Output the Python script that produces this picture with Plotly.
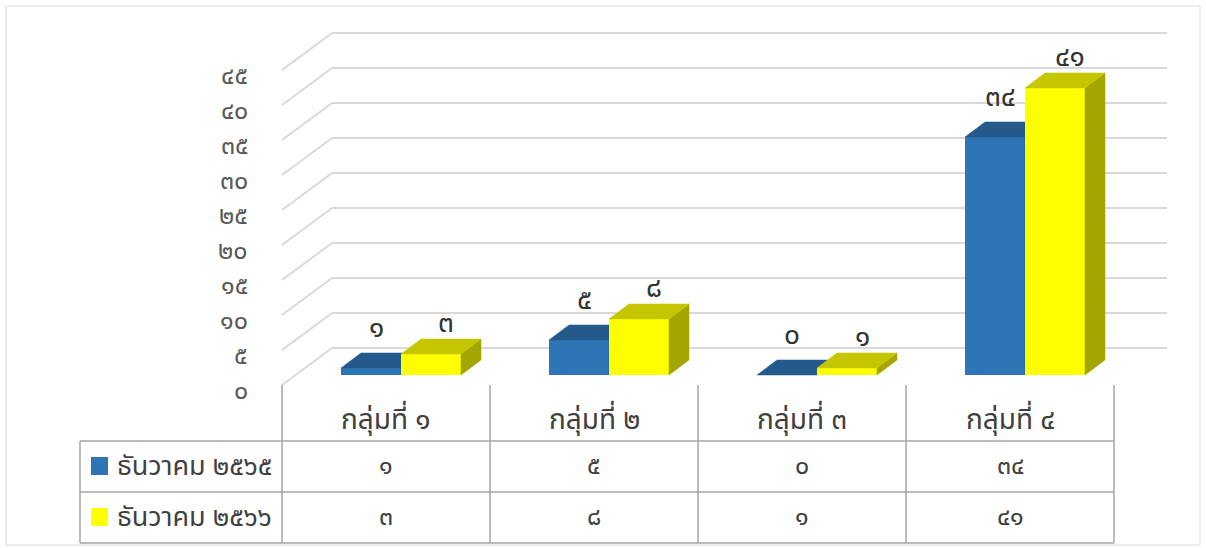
import plotly.graph_objects as go

# ---------------- data ----------------
categories = ["กลุ่มที่ ๑", "กลุ่มที่ ๒", "กลุ่มที่ ๓", "กลุ่มที่ ๔"]
series_names = ["ธันวาคม ๒๕๖๕", "ธันวาคม ๒๕๖๖"]
values_2565 = [1, 5, 0, 34]
values_2566 = [3, 8, 1, 41]
tick_values = [0, 5, 10, 15, 20, 25, 30, 35, 40, 45]
tick_labels = ["๐", "๕", "๑๐", "๑๕", "๒๐", "๒๕", "๓๐", "๓๕", "๔๐", "๔๕"]

THAI = str.maketrans("0123456789", "๐๑๒๓๔๕๖๗๘๙")


def thai(n):
    return str(n).translate(THAI)


# ---------------- geometry (styling) ----------------
W, H = 1206, 548
CAT_PX = 208.0     # pixel width of one category
X0_PX = 386.0      # pixel centre of first category
UNIT_PX = 7.0      # pixels per value unit
BASE_PX = 375.0    # pixel row of value 0 at bar fronts


def px_x(px):
    return (px - X0_PX) / CAT_PX


def px_y(py):
    return (BASE_PX - py) / UNIT_PX


def pap_x(px):
    return px / W


def pap_y(py):
    return 1 - py / H


BAR_W = 60 / CAT_PX
DX = 20 / CAT_PX           # bar depth (x)
DY = 15 / UNIT_PX          # bar depth (y)
WALL_FRONT_DY = -10 / UNIT_PX
WALL_BACK_DY = 27 / UNIT_PX
WALL_FRONT_X = px_x(282)
WALL_BACK_X0 = px_x(332)
WALL_BACK_X1 = px_x(1167)

FONT = "Tahoma, 'Leelawadee UI', 'Noto Sans Thai', 'Noto Sans', sans-serif"

series = [
    dict(name=series_names[0], vals=values_2565, off=-15 / CAT_PX,
         front="#2E75B6", top="#235A8B", side="#1F4E79",
         lab_dx=5, lab_dy=25, xa="x", ya="y"),
    dict(name=series_names[1], vals=values_2566, off=45 / CAT_PX,
         front="#FFFF00", top="#C6C600", side="#A5A500",
         lab_dx=15, lab_dy=16, xa="x2", ya="y2"),
]

fig = go.Figure()
annotations = []
shapes = []

for s in series:
    xs = [i + s["off"] for i in range(len(categories))]
    # front faces
    fig.add_trace(go.Bar(x=xs, y=s["vals"], base=0, width=BAR_W,
                         marker=dict(color=s["front"], line=dict(width=0)),
                         xaxis=s["xa"], yaxis=s["ya"], hoverinfo="skip",
                         showlegend=False))
    # side and top faces
    sx, sy, tx, ty = [], [], [], []
    for xc, v in zip(xs, s["vals"]):
        xl, xr = xc - BAR_W / 2, xc + BAR_W / 2
        sx += [xr, xr, xr + DX, xr + DX, xr, None]
        sy += [0, v, v + DY, DY, 0, None]
        tx += [xl, xr, xr + DX, xl + DX, xl, None]
        ty += [v, v, v + DY, v + DY, v, None]
    fig.add_trace(go.Scatter(x=sx, y=sy, fill="toself", fillcolor=s["side"],
                             mode="lines", line=dict(width=0.5, color=s["side"]),
                             xaxis=s["xa"], yaxis=s["ya"], hoverinfo="skip",
                             showlegend=False))
    fig.add_trace(go.Scatter(x=tx, y=ty, fill="toself", fillcolor=s["top"],
                             mode="lines", line=dict(width=0.5, color=s["top"]),
                             xaxis=s["xa"], yaxis=s["ya"], hoverinfo="skip",
                             showlegend=False))
    # data labels
    for xc, v in zip(xs, s["vals"]):
        annotations.append(dict(x=xc, y=v + DY, xref="x", yref="y", text=thai(v),
                                showarrow=False, xshift=s["lab_dx"], yshift=s["lab_dy"],
                                xanchor="center", yanchor="middle",
                                font=dict(family=FONT, size=28, color="#333333")))

# gridlines on back wall + diagonals
for v, lab in zip(tick_values, tick_labels):
    yb = v + WALL_BACK_DY
    yf = v + WALL_FRONT_DY
    shapes.append(dict(type="line", xref="x", yref="y", x0=WALL_BACK_X0, x1=WALL_BACK_X1,
                       y0=yb, y1=yb, line=dict(color="#D9D9D9", width=2), layer="below"))
    shapes.append(dict(type="line", xref="x", yref="y", x0=WALL_FRONT_X, x1=WALL_BACK_X0,
                       y0=yf, y1=yb, line=dict(color="#D9D9D9", width=2), layer="below"))
    annotations.append(dict(x=px_x(250), y=yf, xref="x", yref="y", text=lab,
                            showarrow=False, xanchor="right", yanchor="middle", yshift=-6,
                            font=dict(family=FONT, size=25, color="#595959")))

# ---------------- data table ----------------
TC = "#A6A6A6"
col_edges = [282, 490, 698, 906, 1114]
for xe in col_edges:
    shapes.append(dict(type="line", xref="paper", yref="paper", x0=pap_x(xe), x1=pap_x(xe),
                       y0=pap_y(385), y1=pap_y(543), line=dict(color=TC, width=1.5)))
for ye in [441, 492, 543]:
    shapes.append(dict(type="line", xref="paper", yref="paper", x0=pap_x(80), x1=pap_x(1114),
                       y0=pap_y(ye), y1=pap_y(ye), line=dict(color=TC, width=1.5)))
shapes.append(dict(type="line", xref="paper", yref="paper", x0=pap_x(80), x1=pap_x(80),
                   y0=pap_y(441), y1=pap_y(543), line=dict(color=TC, width=1.5)))

for i, c in enumerate(categories):
    annotations.append(dict(x=i, y=px_y(420), xref="x", yref="y", text=c, showarrow=False,
                            xanchor="center", yanchor="middle",
                            font=dict(family=FONT, size=28, color="#404040")))

row_y = [466, 517]
for s, ry in zip(series, row_y):
    shapes.append(dict(type="rect", xref="paper", yref="paper", x0=pap_x(91), x1=pap_x(108),
                       y0=pap_y(ry + 9), y1=pap_y(ry - 9), fillcolor=s["front"],
                       line=dict(width=0)))
    annotations.append(dict(x=pap_x(115), y=pap_y(ry), xref="paper", yref="paper",
                            text=s["name"], showarrow=False, xanchor="left", yanchor="middle",
                            font=dict(family=FONT, size=27, color="#404040")))
    for i, v in enumerate(s["vals"]):
        annotations.append(dict(x=i, y=px_y(ry), xref="x", yref="y", text=thai(v),
                                showarrow=False, xanchor="center", yanchor="middle",
                                font=dict(family=FONT, size=25, color="#404040")))

# outer chart border
shapes.append(dict(type="rect", xref="paper", yref="paper", x0=pap_x(6), x1=pap_x(1200),
                   y0=pap_y(545), y1=pap_y(6), line=dict(color="#D9D9D9", width=1)))

axis_common = dict(visible=False, fixedrange=True, showgrid=False, zeroline=False)
fig.update_layout(
    width=W, height=H,
    margin=dict(l=0, r=0, t=0, b=0),
    paper_bgcolor="white", plot_bgcolor="rgba(0,0,0,0)",
    barmode="overlay", showlegend=False,
    xaxis=dict(range=[px_x(0), px_x(W)], **axis_common),
    yaxis=dict(range=[px_y(H), px_y(0)], **axis_common),
    xaxis2=dict(range=[px_x(0), px_x(W)], overlaying="x", **axis_common),
    yaxis2=dict(range=[px_y(H), px_y(0)], overlaying="y", **axis_common),
    shapes=shapes, annotations=annotations,
)

fig.write_html("out.html", config={"displayModeBar": False},
               post_script="document.body.style.margin='0';document.body.style.overflow='hidden';")
